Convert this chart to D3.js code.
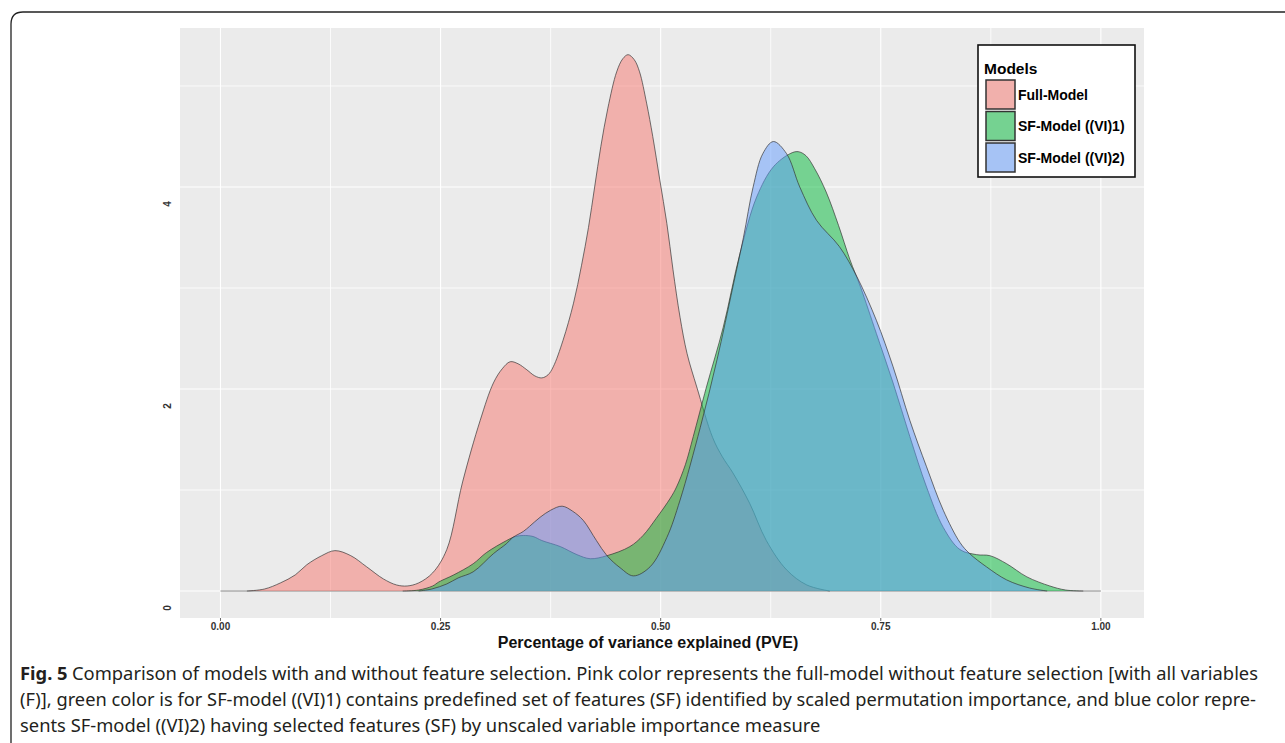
<!DOCTYPE html>
<meta charset="utf-8">
<style>
    body { margin: 0; background: #fff; }
    svg { display: block; }
    .tick-lab { font-family: "Liberation Sans", Arial, sans-serif; font-weight: bold; font-size: 10px; fill: #333; }
    .caption { font-family: "Noto Sans", "Open Sans", sans-serif; font-size: 18.5px; fill: #231f20; }
</style>
<body>
<script src="https://cdn.jsdelivr.net/npm/d3@7"></script>
<script>

// density curves: [PVE, density]
var fullModel = [[0.030,0],[0.050,0.02],[0.068,0.08],[0.085,0.16],[0.098,0.26],[0.115,0.35],[0.130,0.40],
    [0.148,0.35],[0.166,0.24],[0.185,0.12],[0.200,0.06],[0.212,0.05],[0.225,0.08],[0.241,0.18],[0.257,0.41],
    [0.275,1.08],[0.295,1.69],[0.310,2.06],[0.320,2.20],[0.329,2.27],[0.338,2.25],[0.348,2.19],[0.357,2.13],
    [0.365,2.11],[0.372,2.14],[0.378,2.22],[0.389,2.48],[0.401,2.85],[0.410,3.22],[0.418,3.60],[0.425,4.00],
    [0.432,4.40],[0.440,4.78],[0.450,5.14],[0.457,5.27],[0.463,5.31],[0.470,5.26],[0.476,5.14],[0.484,4.83],
    [0.491,4.50],[0.499,4.07],[0.507,3.64],[0.514,3.18],[0.522,2.71],[0.530,2.35],[0.541,2.02],[0.559,1.52],
    [0.570,1.33],[0.582,1.17],[0.601,0.87],[0.620,0.50],[0.643,0.21],[0.666,0.06],[0.692,0]];

var sfModel1 = [[0.207,0],[0.225,0.01],[0.241,0.05],[0.248,0.09],[0.265,0.16],[0.287,0.27],[0.302,0.38],
    [0.325,0.50],[0.335,0.54],[0.344,0.55],[0.355,0.54],[0.365,0.50],[0.386,0.44],[0.405,0.36],[0.420,0.32],
    [0.439,0.35],[0.465,0.44],[0.480,0.55],[0.495,0.72],[0.511,0.92],[0.518,1.03],[0.528,1.25],[0.537,1.53],
    [0.552,2.02],[0.571,2.61],[0.590,3.34],[0.609,3.90],[0.628,4.20],[0.647,4.33],[0.656,4.35],[0.665,4.31],
    [0.675,4.18],[0.688,3.95],[0.702,3.62],[0.715,3.28],[0.727,3.01],[0.745,2.55],[0.764,2.06],[0.783,1.53],
    [0.802,1.03],[0.821,0.63],[0.840,0.41],[0.859,0.36],[0.874,0.35],[0.893,0.27],[0.916,0.14],[0.942,0.05],
    [0.960,0.01],[0.980,0]];

var sfModel2 = [[0.225,0],[0.240,0.02],[0.257,0.07],[0.270,0.13],[0.287,0.19],[0.310,0.37],[0.325,0.47],
    [0.332,0.53],[0.344,0.59],[0.351,0.64],[0.363,0.73],[0.375,0.80],[0.388,0.84],[0.400,0.79],[0.412,0.70],
    [0.427,0.50],[0.439,0.35],[0.454,0.23],[0.469,0.15],[0.488,0.24],[0.507,0.53],[0.522,0.90],[0.545,1.62],
    [0.564,2.29],[0.582,3.01],[0.594,3.50],[0.605,4.00],[0.616,4.33],[0.628,4.45],[0.643,4.33],[0.658,4.00],
    [0.677,3.67],[0.703,3.41],[0.723,3.11],[0.745,2.68],[0.764,2.22],[0.783,1.69],[0.802,1.23],[0.821,0.80],
    [0.840,0.48],[0.851,0.37],[0.870,0.24],[0.893,0.11],[0.919,0.03],[0.939,0]];

var modelNames = ["Full-Model", "SF-Model ((VI)1)", "SF-Model ((VI)2)"];
var modelColors = ["#F8766D", "#00BA38", "#619CFF"];
var xTicks = [0, 0.25, 0.5, 0.75, 1];
var xMinor = [0.125, 0.375, 0.625, 0.875];
var yTicks = [0, 2, 4];
var yMinor = [1, 3, 5];

var captionLines = [
    "Comparison of models with and without feature selection. Pink color represents the full-model without feature selection [with all variables",
    "(F)], green color is for SF-model ((VI)1) contains predefined set of features (SF) identified by scaled permutation importance, and blue color repre-",
    "sents SF-model ((VI)2) having selected features (SF) by unscaled variable importance measure"
];

var W = 1285, H = 743;
var panel = {left: 180, right: 1144, top: 28, bottom: 618};

var svg = d3.select("body").append("svg")
    .attr("width", W)
    .attr("height", H);

// outer frame with rounded corner
svg.append("path")
    .attr("d", "M11,760 L11,24 Q11,12 23,12 L1300,12")
    .style("fill", "none")
    .style("stroke", "#222")
    .style("stroke-width", 1.3);

var x = d3.scaleLinear().domain([-0.046, 1.049]).range([panel.left, panel.right]);
var y = d3.scaleLinear().domain([-0.267, 5.574]).range([panel.bottom, panel.top]);

svg.append("rect")
    .attr("x", panel.left).attr("y", panel.top)
    .attr("width", panel.right - panel.left)
    .attr("height", panel.bottom - panel.top)
    .style("fill", "#EBEBEB");

// grid
var grid = svg.append("g");
grid.selectAll(".vminor").data(xMinor).enter().append("line")
    .attr("x1", d => x(d)).attr("x2", d => x(d))
    .attr("y1", panel.top).attr("y2", panel.bottom)
    .style("stroke", "#fff").style("stroke-width", 0.8);
grid.selectAll(".hminor").data(yMinor).enter().append("line")
    .attr("y1", d => y(d)).attr("y2", d => y(d))
    .attr("x1", panel.left).attr("x2", panel.right)
    .style("stroke", "#fff").style("stroke-width", 0.8);
grid.selectAll(".vmajor").data(xTicks).enter().append("line")
    .attr("x1", d => x(d)).attr("x2", d => x(d))
    .attr("y1", panel.top).attr("y2", panel.bottom)
    .style("stroke", "#fff").style("stroke-width", 1.1);
grid.selectAll(".hmajor").data(yTicks).enter().append("line")
    .attr("y1", d => y(d)).attr("y2", d => y(d))
    .attr("x1", panel.left).attr("x2", panel.right)
    .style("stroke", "#fff").style("stroke-width", 1.1);

// baseline under the densities
svg.append("line")
    .attr("x1", x(0)).attr("x2", x(1))
    .attr("y1", y(0)).attr("y2", y(0))
    .style("stroke", "#888").style("stroke-width", 1);

var curve = d3.curveCatmullRom.alpha(0.5);

var area = d3.area()
    .x(d => x(d[0]))
    .y0(y(0))
    .y1(d => y(d[1]))
    .curve(curve);

var line = d3.line()
    .x(d => x(d[0]))
    .y(d => y(d[1]))
    .curve(curve);

var series = [fullModel, sfModel1, sfModel2];
series.forEach(function(s, i) {
    svg.append("path")
        .attr("d", area(s))
        .style("fill", modelColors[i])
        .style("fill-opacity", 0.5);
    svg.append("path")
        .attr("d", line(s))
        .style("fill", "none")
        .style("stroke", "#333")
        .style("stroke-width", 0.8)
        .style("stroke-opacity", 0.85);
});

// x axis
svg.selectAll(".xtick").data(xTicks).enter().append("line")
    .attr("x1", d => x(d)).attr("x2", d => x(d))
    .attr("y1", panel.bottom).attr("y2", panel.bottom + 3)
    .style("stroke", "#444").style("stroke-width", 0.8);
svg.selectAll(".xlab").data(xTicks).enter().append("text")
    .attr("class", "tick-lab")
    .attr("x", d => x(d))
    .attr("y", 630)
    .attr("text-anchor", "middle")
    .text(d => d3.format(".2f")(d));

svg.append("text")
    .attr("x", 648)
    .attr("y", 648)
    .attr("text-anchor", "middle")
    .style("font-family", "'Liberation Sans', Arial, sans-serif")
    .style("font-weight", "bold")
    .style("font-size", "16px")
    .style("fill", "#111")
    .text("Percentage of variance explained (PVE)");

// y axis (labels sit a little below their grid lines, as in the figure)
svg.selectAll(".ylab").data(yTicks).enter().append("text")
    .attr("class", "tick-lab")
    .attr("transform", d => "translate(171," + (y(d) + 17) + ") rotate(-90)")
    .attr("text-anchor", "middle")
    .text(d => d);

// legend
var lg = svg.append("g").attr("transform", "translate(978,45)");
lg.append("rect")
    .attr("width", 157).attr("height", 132)
    .style("fill", "#fff").style("stroke", "#111").style("stroke-width", 1.6);
lg.append("text")
    .attr("x", 6).attr("y", 29)
    .style("font-family", "'Liberation Sans', Arial, sans-serif")
    .style("font-weight", "bold").style("font-size", "15.5px")
    .text("Models");
var keys = lg.selectAll(".key").data(modelNames).enter().append("g")
    .attr("transform", (d, i) => "translate(8," + (35 + i * 31.5) + ")");
keys.append("rect")
    .attr("width", 29).attr("height", 29)
    .style("fill", "#EBEBEB");
keys.append("rect")
    .attr("width", 29).attr("height", 29)
    .style("fill", (d, i) => modelColors[i])
    .style("fill-opacity", 0.5)
    .style("stroke", "#333").style("stroke-width", 1.5);
keys.append("text")
    .attr("x", 32).attr("y", 19.5)
    .style("font-family", "'Liberation Sans', Arial, sans-serif")
    .style("font-weight", "bold").style("font-size", "14px")
    .text(d => d);

// caption: lines 1-2 are justified, line 3 keeps the same squeeze as line 1
var cap = svg.append("g").attr("class", "caption");
var figLab = cap.append("text")
    .attr("x", 20).attr("y", 680)
    .style("font-weight", "bold")
    .text("Fig. 5");
var capTexts = captionLines.map(function(t, i) {
    return cap.append("text")
        .attr("x", i === 0 ? 72 : 20)
        .attr("y", 680 + i * 26)
        .text(t);
});
var squeeze = (1258 - 72) / capTexts[0].node().getComputedTextLength();
figLab.attr("textLength", figLab.node().getComputedTextLength() * squeeze)
    .attr("lengthAdjust", "spacingAndGlyphs");
capTexts[0].attr("textLength", 1258 - 72).attr("lengthAdjust", "spacingAndGlyphs");
capTexts[1].attr("textLength", 1256 - 20).attr("lengthAdjust", "spacingAndGlyphs");
capTexts[2].attr("textLength", capTexts[2].node().getComputedTextLength() * squeeze)
    .attr("lengthAdjust", "spacingAndGlyphs");

</script>
</body>
